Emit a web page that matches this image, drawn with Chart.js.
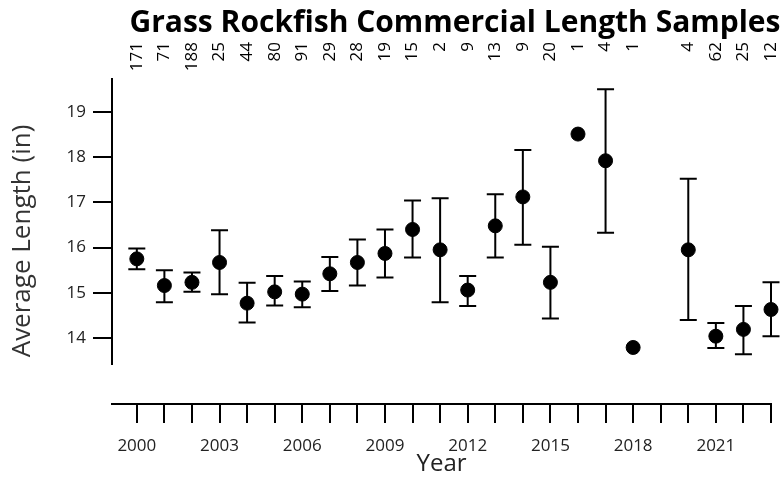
<!DOCTYPE html>
<html>
<head>
<meta charset="utf-8">
<script src="https://cdn.jsdelivr.net/npm/chart.js@4"></script>
<style>
  html, body { margin: 0; padding: 0; background: #fff; }
  #wrap { width: 784px; height: 479px; position: relative; }
</style>
</head>
<body>
<div id="wrap"><canvas id="chart"></canvas></div>
<script>
/* Data */
const years  = [2000, 2001, 2002, 2003, 2004, 2005, 2006, 2007, 2008, 2009, 2010, 2011,
                2012, 2013, 2014, 2015, 2016, 2017, 2018, 2020, 2021, 2022, 2023];
const counts = [171, 71, 188, 25, 44, 80, 91, 29, 28, 19, 15, 2,
                9, 13, 9, 20, 1, 4, 1, 4, 62, 25, 12];
const means  = [15.75, 15.16, 15.23, 15.67, 14.77, 15.02, 14.97, 15.42, 15.67, 15.87, 16.40, 15.95,
                15.06, 16.48, 17.12, 15.23, 18.51, 17.92, 13.79, 15.95, 14.04, 14.19, 14.63];
const upper  = [15.98, 15.50, 15.45, 16.38, 15.22, 15.37, 15.25, 15.79, 16.18, 16.40, 17.04, 17.09,
                15.37, 17.18, 18.16, 16.02, null, 19.50, null, 17.52, 14.33, 14.71, 15.23];
const lower  = [15.52, 14.79, 15.02, 14.97, 14.34, 14.72, 14.68, 15.04, 15.16, 15.34, 15.78, 14.79,
                14.71, 15.78, 16.06, 14.43, null, 16.33, null, 14.40, 13.78, 13.64, 14.04];
const yTicks = [14, 15, 16, 17, 18, 19];
const xTickYears = [];
for (let y = 2000; y <= 2023; y++) xTickYears.push(y);

const FONT = "'Open Sans', 'Noto Sans', sans-serif";
const titleText = "Grass Rockfish Commercial Length Samples";

/* Error bars, the short y axis line, sample counts and title */
const extras = {
  id: 'extras',
  beforeDatasetsDraw(chart) {
    const { ctx, scales: { x, y } } = chart;
    ctx.save();
    ctx.strokeStyle = '#000';
    ctx.lineWidth = 2;
    years.forEach((yr, i) => {
      if (upper[i] == null || lower[i] == null) return;
      const px = x.getPixelForValue(yr);
      const pt = y.getPixelForValue(upper[i]);
      const pb = y.getPixelForValue(lower[i]);
      ctx.beginPath();
      ctx.moveTo(px, pt); ctx.lineTo(px, pb);
      ctx.moveTo(px - 8.5, pt); ctx.lineTo(px + 8.5, pt);
      ctx.moveTo(px - 8.5, pb); ctx.lineTo(px + 8.5, pb);
      ctx.stroke();
    });
    ctx.restore();
  },
  afterDraw(chart) {
    const { ctx, chartArea, scales: { x, y } } = chart;
    ctx.save();
    // y axis line stops short of the x axis
    ctx.strokeStyle = '#000';
    ctx.lineWidth = 2;
    ctx.beginPath();
    ctx.moveTo(chartArea.left, chartArea.top);
    ctx.lineTo(chartArea.left, y.getPixelForValue(13.4));
    ctx.stroke();

    // sample sizes along the top
    ctx.fillStyle = '#000';
    ctx.font = `17px ${FONT}`;
    ctx.textAlign = 'right';
    ctx.textBaseline = 'middle';
    years.forEach((yr, i) => {
      ctx.save();
      ctx.translate(x.getPixelForValue(yr), 42);
      ctx.rotate(-Math.PI / 2);
      ctx.fillText(String(counts[i]), 0, 0);
      ctx.restore();
    });

    // title
    ctx.font = `bold 30px ${FONT}`;
    ctx.textAlign = 'center';
    ctx.textBaseline = 'alphabetic';
    ctx.fillText(titleText, 455, 32);
    ctx.restore();
  }
};

new Chart(document.getElementById('chart'), {
  type: 'scatter',
  data: {
    datasets: [{
      data: years.map((yr, i) => ({ x: yr, y: means[i] })),
      backgroundColor: '#000',
      borderColor: '#000',
      pointRadius: 7,
      pointHoverRadius: 7,
      clip: false
    }]
  },
  options: {
    responsive: true,
    maintainAspectRatio: false,
    animation: false,
    layout: { padding: { top: 78, right: 11, left: 0, bottom: 0 } },
    plugins: { legend: { display: false }, tooltip: { enabled: false }, title: { display: false } },
    scales: {
      x: {
        type: 'linear',
        min: 1999.1,
        max: 2023,
        afterBuildTicks: (s) => { s.ticks = xTickYears.map(v => ({ value: v })); },
        afterFit: (s) => { s.height = 75; },
        border: { display: true, color: '#000', width: 2 },
        grid: { drawOnChartArea: false, color: '#000', lineWidth: 2, tickLength: 19 },
        ticks: {
          autoSkip: false, maxRotation: 0, padding: 13, color: '#222',
          font: { family: FONT, size: 17 },
          callback: (v) => ((v - 2000) % 3 === 0 ? String(v) : '')
        },
        title: { display: true, text: 'Year', color: '#222', font: { family: FONT, size: 24 }, padding: { top: 0, bottom: 0 } }
      },
      y: {
        min: 12.54,
        max: 19.75,
        afterBuildTicks: (s) => { s.ticks = yTicks.map(v => ({ value: v })); },
        afterFit: (s) => { s.width = 112; },
        border: { display: false },
        grid: { drawOnChartArea: false, color: '#000', lineWidth: 2, tickLength: 19 },
        ticks: { padding: 7, color: '#222', font: { family: FONT, size: 17 } },
        title: { display: true, text: 'Average Length (in)', color: '#333', font: { family: FONT, size: 26 }, padding: { top: 7, bottom: 0 } }
      }
    }
  },
  plugins: [extras]
});
</script>
</body>
</html>
